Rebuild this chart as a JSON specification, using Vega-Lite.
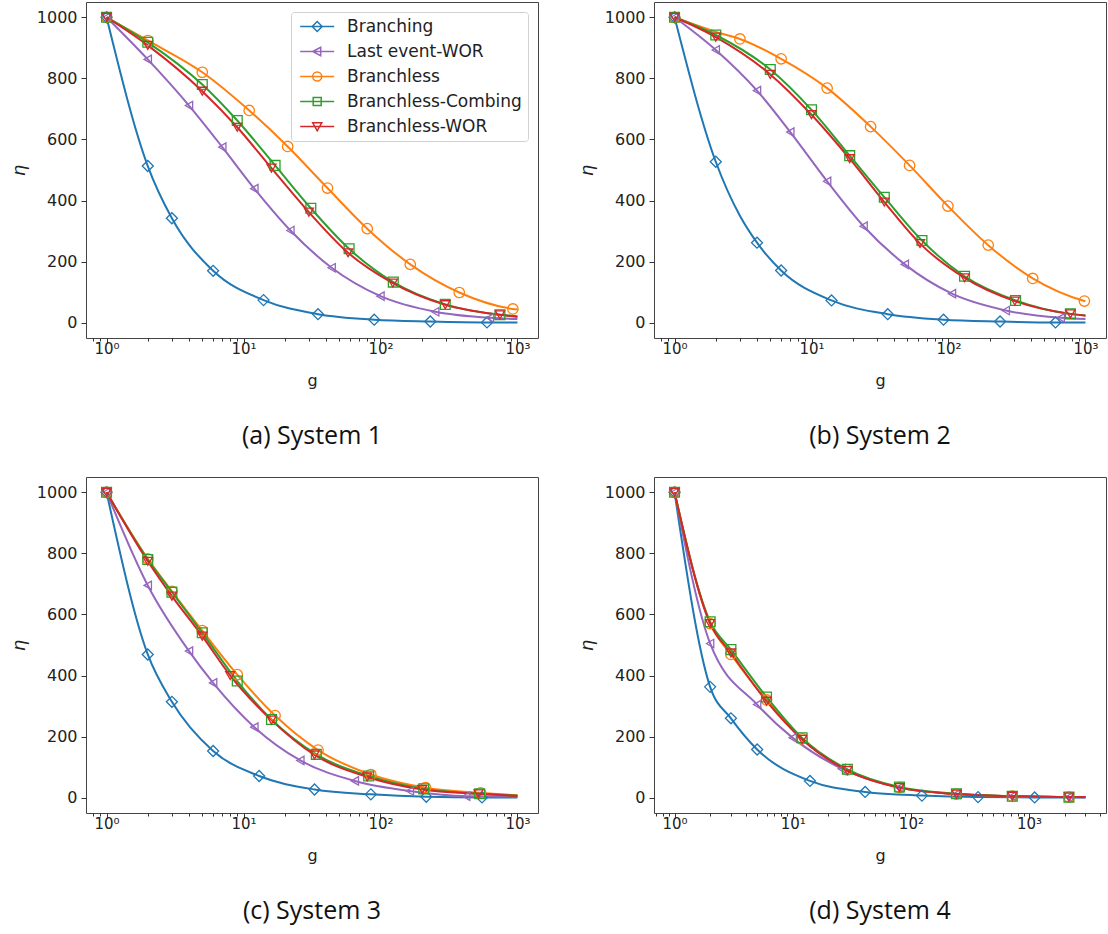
{
"$schema": "https://vega.github.io/schema/vega-lite/v6.json",
"padding": {"left": 9, "top": 1, "right": 0, "bottom": 6},
"config": {
  "font": "DejaVu Sans",
  "view": {"stroke": "#444", "strokeWidth": 1},
  "axis": {"domain": false, "grid": false, "tickColor": "#333", "tickWidth": 1, "labelColor": "#222", "labelFont": "DejaVu Sans", "titleFont": "DejaVu Sans", "titleFontWeight": "normal", "titleColor": "#222"},
  "axisX": {"labelFontSize": 15, "titleFontSize": 16, "labelPadding": -2, "titlePadding": 16, "labelFlush": false, "labelOverlap": false},
  "axisY": {"labelFontSize": 16, "titleFontSize": 18, "titleFontStyle": "italic", "tickSize": 5, "labelPadding": 4, "titlePadding": 8},
  "title": {"font": "Open Sans", "fontSize": 25, "fontWeight": "normal", "color": "#111"}
},
"datasets": {
"markers": [
{"panel":"a","series":"Branching","g":1,"eta":1000},{"panel":"a","series":"Branching","g":2,"eta":513},{"panel":"a","series":"Branching","g":3,"eta":342},{"panel":"a","series":"Branching","g":6,"eta":170},{"panel":"a","series":"Branching","g":14,"eta":74},{"panel":"a","series":"Branching","g":35,"eta":28},{"panel":"a","series":"Branching","g":90,"eta":10},{"panel":"a","series":"Branching","g":231,"eta":4},{"panel":"a","series":"Branching","g":599,"eta":1},
{"panel":"a","series":"Last event-WOR","g":1,"eta":1000},{"panel":"a","series":"Last event-WOR","g":2,"eta":862},{"panel":"a","series":"Last event-WOR","g":4,"eta":711},{"panel":"a","series":"Last event-WOR","g":7,"eta":575},{"panel":"a","series":"Last event-WOR","g":12,"eta":439},{"panel":"a","series":"Last event-WOR","g":22,"eta":302},{"panel":"a","series":"Last event-WOR","g":44,"eta":180},{"panel":"a","series":"Last event-WOR","g":100,"eta":87},{"panel":"a","series":"Last event-WOR","g":251,"eta":36},{"panel":"a","series":"Last event-WOR","g":630,"eta":16},
{"panel":"a","series":"Branchless","g":1,"eta":1000},{"panel":"a","series":"Branchless","g":2,"eta":924},{"panel":"a","series":"Branchless","g":5,"eta":820},{"panel":"a","series":"Branchless","g":11,"eta":695},{"panel":"a","series":"Branchless","g":21,"eta":577},{"panel":"a","series":"Branchless","g":41,"eta":441},{"panel":"a","series":"Branchless","g":80,"eta":308},{"panel":"a","series":"Branchless","g":165,"eta":191},{"panel":"a","series":"Branchless","g":376,"eta":99},{"panel":"a","series":"Branchless","g":926,"eta":45},
{"panel":"a","series":"Branchless-Combing","g":1,"eta":1000},{"panel":"a","series":"Branchless-Combing","g":2,"eta":918},{"panel":"a","series":"Branchless-Combing","g":5,"eta":780},{"panel":"a","series":"Branchless-Combing","g":9,"eta":662},{"panel":"a","series":"Branchless-Combing","g":17,"eta":515},{"panel":"a","series":"Branchless-Combing","g":31,"eta":375},{"panel":"a","series":"Branchless-Combing","g":59,"eta":242},{"panel":"a","series":"Branchless-Combing","g":124,"eta":133},{"panel":"a","series":"Branchless-Combing","g":297,"eta":60},{"panel":"a","series":"Branchless-Combing","g":745,"eta":26},
{"panel":"a","series":"Branchless-WOR","g":1,"eta":1000},{"panel":"a","series":"Branchless-WOR","g":2,"eta":908},{"panel":"a","series":"Branchless-WOR","g":5,"eta":758},{"panel":"a","series":"Branchless-WOR","g":9,"eta":640},{"panel":"a","series":"Branchless-WOR","g":16,"eta":506},{"panel":"a","series":"Branchless-WOR","g":30,"eta":362},{"panel":"a","series":"Branchless-WOR","g":58,"eta":229},{"panel":"a","series":"Branchless-WOR","g":123,"eta":130},{"panel":"a","series":"Branchless-WOR","g":297,"eta":59},{"panel":"a","series":"Branchless-WOR","g":745,"eta":26},
{"panel":"b","series":"Branching","g":1,"eta":1000},{"panel":"b","series":"Branching","g":2,"eta":527},{"panel":"b","series":"Branching","g":4,"eta":262},{"panel":"b","series":"Branching","g":6,"eta":171},{"panel":"b","series":"Branching","g":14,"eta":73},{"panel":"b","series":"Branching","g":36,"eta":28},{"panel":"b","series":"Branching","g":92,"eta":10},{"panel":"b","series":"Branching","g":238,"eta":4},{"panel":"b","series":"Branching","g":604,"eta":1},
{"panel":"b","series":"Last event-WOR","g":1,"eta":1000},{"panel":"b","series":"Last event-WOR","g":2,"eta":893},{"panel":"b","series":"Last event-WOR","g":4,"eta":760},{"panel":"b","series":"Last event-WOR","g":7,"eta":624},{"panel":"b","series":"Last event-WOR","g":13,"eta":463},{"panel":"b","series":"Last event-WOR","g":24,"eta":316},{"panel":"b","series":"Last event-WOR","g":48,"eta":191},{"panel":"b","series":"Last event-WOR","g":106,"eta":95},{"panel":"b","series":"Last event-WOR","g":262,"eta":40},{"panel":"b","series":"Last event-WOR","g":660,"eta":16},
{"panel":"b","series":"Branchless","g":1,"eta":1000},{"panel":"b","series":"Branchless","g":3,"eta":929},{"panel":"b","series":"Branchless","g":6,"eta":864},{"panel":"b","series":"Branchless","g":13,"eta":768},{"panel":"b","series":"Branchless","g":27,"eta":642},{"panel":"b","series":"Branchless","g":52,"eta":515},{"panel":"b","series":"Branchless","g":99,"eta":382},{"panel":"b","series":"Branchless","g":195,"eta":254},{"panel":"b","series":"Branchless","g":412,"eta":145},{"panel":"b","series":"Branchless","g":982,"eta":71},
{"panel":"b","series":"Branchless-Combing","g":1,"eta":1000},{"panel":"b","series":"Branchless-Combing","g":2,"eta":942},{"panel":"b","series":"Branchless-Combing","g":5,"eta":829},{"panel":"b","series":"Branchless-Combing","g":10,"eta":697},{"panel":"b","series":"Branchless-Combing","g":19,"eta":547},{"panel":"b","series":"Branchless-Combing","g":34,"eta":411},{"panel":"b","series":"Branchless-Combing","g":64,"eta":269},{"panel":"b","series":"Branchless-Combing","g":131,"eta":152},{"panel":"b","series":"Branchless-Combing","g":309,"eta":73},{"panel":"b","series":"Branchless-Combing","g":776,"eta":29},
{"panel":"b","series":"Branchless-WOR","g":1,"eta":1000},{"panel":"b","series":"Branchless-WOR","g":2,"eta":935},{"panel":"b","series":"Branchless-WOR","g":5,"eta":813},{"panel":"b","series":"Branchless-WOR","g":10,"eta":681},{"panel":"b","series":"Branchless-WOR","g":19,"eta":537},{"panel":"b","series":"Branchless-WOR","g":34,"eta":395},{"panel":"b","series":"Branchless-WOR","g":62,"eta":259},{"panel":"b","series":"Branchless-WOR","g":131,"eta":147},{"panel":"b","series":"Branchless-WOR","g":305,"eta":71},{"panel":"b","series":"Branchless-WOR","g":776,"eta":29},
{"panel":"c","series":"Branching","g":1,"eta":1000},{"panel":"c","series":"Branching","g":2,"eta":469},{"panel":"c","series":"Branching","g":3,"eta":314},{"panel":"c","series":"Branching","g":6,"eta":153},{"panel":"c","series":"Branching","g":13,"eta":71},{"panel":"c","series":"Branching","g":33,"eta":27},{"panel":"c","series":"Branching","g":85,"eta":11},{"panel":"c","series":"Branching","g":216,"eta":3},{"panel":"c","series":"Branching","g":551,"eta":1},
{"panel":"c","series":"Last event-WOR","g":1,"eta":1000},{"panel":"c","series":"Last event-WOR","g":2,"eta":695},{"panel":"c","series":"Last event-WOR","g":4,"eta":480},{"panel":"c","series":"Last event-WOR","g":6,"eta":376},{"panel":"c","series":"Last event-WOR","g":12,"eta":231},{"panel":"c","series":"Last event-WOR","g":26,"eta":122},{"panel":"c","series":"Last event-WOR","g":65,"eta":55},{"panel":"c","series":"Last event-WOR","g":164,"eta":22},{"panel":"c","series":"Last event-WOR","g":422,"eta":5},
{"panel":"c","series":"Branchless","g":1,"eta":1000},{"panel":"c","series":"Branchless","g":2,"eta":782},{"panel":"c","series":"Branchless","g":3,"eta":676},{"panel":"c","series":"Branchless","g":5,"eta":547},{"panel":"c","series":"Branchless","g":9,"eta":403},{"panel":"c","series":"Branchless","g":17,"eta":269},{"panel":"c","series":"Branchless","g":35,"eta":156},{"panel":"c","series":"Branchless","g":85,"eta":76},{"panel":"c","series":"Branchless","g":213,"eta":33},{"panel":"c","series":"Branchless","g":538,"eta":16},
{"panel":"c","series":"Branchless-Combing","g":1,"eta":1000},{"panel":"c","series":"Branchless-Combing","g":2,"eta":780},{"panel":"c","series":"Branchless-Combing","g":3,"eta":673},{"panel":"c","series":"Branchless-Combing","g":5,"eta":540},{"panel":"c","series":"Branchless-Combing","g":9,"eta":382},{"panel":"c","series":"Branchless-Combing","g":16,"eta":256},{"panel":"c","series":"Branchless-Combing","g":34,"eta":142},{"panel":"c","series":"Branchless-Combing","g":82,"eta":71},{"panel":"c","series":"Branchless-Combing","g":207,"eta":29},{"panel":"c","series":"Branchless-Combing","g":530,"eta":13},
{"panel":"c","series":"Branchless-WOR","g":1,"eta":1000},{"panel":"c","series":"Branchless-WOR","g":2,"eta":774},{"panel":"c","series":"Branchless-WOR","g":3,"eta":660},{"panel":"c","series":"Branchless-WOR","g":5,"eta":529},{"panel":"c","series":"Branchless-WOR","g":8,"eta":400},{"panel":"c","series":"Branchless-WOR","g":16,"eta":254},{"panel":"c","series":"Branchless-WOR","g":33,"eta":140},{"panel":"c","series":"Branchless-WOR","g":80,"eta":68},{"panel":"c","series":"Branchless-WOR","g":202,"eta":27},{"panel":"c","series":"Branchless-WOR","g":520,"eta":13},
{"panel":"d","series":"Branching","g":1,"eta":1000},{"panel":"d","series":"Branching","g":2,"eta":363},{"panel":"d","series":"Branching","g":3,"eta":260},{"panel":"d","series":"Branching","g":5,"eta":158},{"panel":"d","series":"Branching","g":14,"eta":55},{"panel":"d","series":"Branching","g":41,"eta":19},{"panel":"d","series":"Branching","g":124,"eta":7},{"panel":"d","series":"Branching","g":370,"eta":2},{"panel":"d","series":"Branching","g":1115,"eta":1},
{"panel":"d","series":"Last event-WOR","g":1,"eta":1000},{"panel":"d","series":"Last event-WOR","g":2,"eta":505},{"panel":"d","series":"Last event-WOR","g":5,"eta":305},{"panel":"d","series":"Last event-WOR","g":10,"eta":196},{"panel":"d","series":"Last event-WOR","g":26,"eta":95},{"panel":"d","series":"Last event-WOR","g":80,"eta":33},{"panel":"d","series":"Last event-WOR","g":243,"eta":12},{"panel":"d","series":"Last event-WOR","g":721,"eta":5},{"panel":"d","series":"Last event-WOR","g":2174,"eta":2},
{"panel":"d","series":"Branchless","g":1,"eta":1000},{"panel":"d","series":"Branchless","g":2,"eta":570},{"panel":"d","series":"Branchless","g":3,"eta":469},{"panel":"d","series":"Branchless","g":6,"eta":320},{"panel":"d","series":"Branchless","g":12,"eta":193},{"panel":"d","series":"Branchless","g":29,"eta":91},{"panel":"d","series":"Branchless","g":80,"eta":33},{"panel":"d","series":"Branchless","g":243,"eta":12},{"panel":"d","series":"Branchless","g":721,"eta":5},{"panel":"d","series":"Branchless","g":2174,"eta":2},
{"panel":"d","series":"Branchless-Combing","g":1,"eta":1000},{"panel":"d","series":"Branchless-Combing","g":2,"eta":576},{"panel":"d","series":"Branchless-Combing","g":3,"eta":485},{"panel":"d","series":"Branchless-Combing","g":6,"eta":330},{"panel":"d","series":"Branchless-Combing","g":12,"eta":196},{"panel":"d","series":"Branchless-Combing","g":29,"eta":93},{"panel":"d","series":"Branchless-Combing","g":80,"eta":35},{"panel":"d","series":"Branchless-Combing","g":243,"eta":13},{"panel":"d","series":"Branchless-Combing","g":721,"eta":5},{"panel":"d","series":"Branchless-Combing","g":2174,"eta":2},
{"panel":"d","series":"Branchless-WOR","g":1,"eta":1000},{"panel":"d","series":"Branchless-WOR","g":2,"eta":570},{"panel":"d","series":"Branchless-WOR","g":3,"eta":474},{"panel":"d","series":"Branchless-WOR","g":6,"eta":316},{"panel":"d","series":"Branchless-WOR","g":12,"eta":191},{"panel":"d","series":"Branchless-WOR","g":29,"eta":89},{"panel":"d","series":"Branchless-WOR","g":80,"eta":33},{"panel":"d","series":"Branchless-WOR","g":243,"eta":12},{"panel":"d","series":"Branchless-WOR","g":721,"eta":5},{"panel":"d","series":"Branchless-WOR","g":2174,"eta":2}
],
"curves": [
{"panel":"a","series":"Branching","g":1,"eta":1000},{"panel":"a","series":"Branching","g":2,"eta":513},{"panel":"a","series":"Branching","g":3,"eta":342},{"panel":"a","series":"Branching","g":6,"eta":170},{"panel":"a","series":"Branching","g":14,"eta":74},{"panel":"a","series":"Branching","g":35,"eta":28},{"panel":"a","series":"Branching","g":90,"eta":10},{"panel":"a","series":"Branching","g":231,"eta":4},{"panel":"a","series":"Branching","g":599,"eta":1},{"panel":"a","series":"Branching","g":1000,"eta":1},
{"panel":"a","series":"Last event-WOR","g":1,"eta":1000},{"panel":"a","series":"Last event-WOR","g":2,"eta":862},{"panel":"a","series":"Last event-WOR","g":4,"eta":711},{"panel":"a","series":"Last event-WOR","g":7,"eta":575},{"panel":"a","series":"Last event-WOR","g":12,"eta":439},{"panel":"a","series":"Last event-WOR","g":22,"eta":302},{"panel":"a","series":"Last event-WOR","g":44,"eta":180},{"panel":"a","series":"Last event-WOR","g":100,"eta":87},{"panel":"a","series":"Last event-WOR","g":251,"eta":36},{"panel":"a","series":"Last event-WOR","g":630,"eta":16},{"panel":"a","series":"Last event-WOR","g":1000,"eta":12},
{"panel":"a","series":"Branchless","g":1,"eta":1000},{"panel":"a","series":"Branchless","g":2,"eta":924},{"panel":"a","series":"Branchless","g":5,"eta":820},{"panel":"a","series":"Branchless","g":11,"eta":695},{"panel":"a","series":"Branchless","g":21,"eta":577},{"panel":"a","series":"Branchless","g":41,"eta":441},{"panel":"a","series":"Branchless","g":80,"eta":308},{"panel":"a","series":"Branchless","g":165,"eta":191},{"panel":"a","series":"Branchless","g":376,"eta":99},{"panel":"a","series":"Branchless","g":926,"eta":45},{"panel":"a","series":"Branchless","g":1000,"eta":43},
{"panel":"a","series":"Branchless-Combing","g":1,"eta":1000},{"panel":"a","series":"Branchless-Combing","g":2,"eta":918},{"panel":"a","series":"Branchless-Combing","g":5,"eta":780},{"panel":"a","series":"Branchless-Combing","g":9,"eta":662},{"panel":"a","series":"Branchless-Combing","g":17,"eta":515},{"panel":"a","series":"Branchless-Combing","g":31,"eta":375},{"panel":"a","series":"Branchless-Combing","g":59,"eta":242},{"panel":"a","series":"Branchless-Combing","g":124,"eta":133},{"panel":"a","series":"Branchless-Combing","g":297,"eta":60},{"panel":"a","series":"Branchless-Combing","g":745,"eta":26},{"panel":"a","series":"Branchless-Combing","g":1000,"eta":21},
{"panel":"a","series":"Branchless-WOR","g":1,"eta":1000},{"panel":"a","series":"Branchless-WOR","g":2,"eta":908},{"panel":"a","series":"Branchless-WOR","g":5,"eta":758},{"panel":"a","series":"Branchless-WOR","g":9,"eta":640},{"panel":"a","series":"Branchless-WOR","g":16,"eta":506},{"panel":"a","series":"Branchless-WOR","g":30,"eta":362},{"panel":"a","series":"Branchless-WOR","g":58,"eta":229},{"panel":"a","series":"Branchless-WOR","g":123,"eta":130},{"panel":"a","series":"Branchless-WOR","g":297,"eta":59},{"panel":"a","series":"Branchless-WOR","g":745,"eta":26},{"panel":"a","series":"Branchless-WOR","g":1000,"eta":19},
{"panel":"b","series":"Branching","g":1,"eta":1000},{"panel":"b","series":"Branching","g":2,"eta":527},{"panel":"b","series":"Branching","g":3,"eta":350},{"panel":"b","series":"Branching","g":4,"eta":262},{"panel":"b","series":"Branching","g":6,"eta":171},{"panel":"b","series":"Branching","g":14,"eta":73},{"panel":"b","series":"Branching","g":36,"eta":28},{"panel":"b","series":"Branching","g":92,"eta":10},{"panel":"b","series":"Branching","g":238,"eta":4},{"panel":"b","series":"Branching","g":604,"eta":1},{"panel":"b","series":"Branching","g":1000,"eta":1},
{"panel":"b","series":"Last event-WOR","g":1,"eta":1000},{"panel":"b","series":"Last event-WOR","g":2,"eta":893},{"panel":"b","series":"Last event-WOR","g":4,"eta":760},{"panel":"b","series":"Last event-WOR","g":7,"eta":624},{"panel":"b","series":"Last event-WOR","g":13,"eta":463},{"panel":"b","series":"Last event-WOR","g":24,"eta":316},{"panel":"b","series":"Last event-WOR","g":48,"eta":191},{"panel":"b","series":"Last event-WOR","g":106,"eta":95},{"panel":"b","series":"Last event-WOR","g":262,"eta":40},{"panel":"b","series":"Last event-WOR","g":660,"eta":16},{"panel":"b","series":"Last event-WOR","g":1000,"eta":12},
{"panel":"b","series":"Branchless","g":1,"eta":1000},{"panel":"b","series":"Branchless","g":2,"eta":952},{"panel":"b","series":"Branchless","g":3,"eta":929},{"panel":"b","series":"Branchless","g":6,"eta":864},{"panel":"b","series":"Branchless","g":13,"eta":768},{"panel":"b","series":"Branchless","g":27,"eta":642},{"panel":"b","series":"Branchless","g":52,"eta":515},{"panel":"b","series":"Branchless","g":99,"eta":382},{"panel":"b","series":"Branchless","g":195,"eta":254},{"panel":"b","series":"Branchless","g":412,"eta":145},{"panel":"b","series":"Branchless","g":982,"eta":71},{"panel":"b","series":"Branchless","g":1000,"eta":70},
{"panel":"b","series":"Branchless-Combing","g":1,"eta":1000},{"panel":"b","series":"Branchless-Combing","g":2,"eta":942},{"panel":"b","series":"Branchless-Combing","g":5,"eta":829},{"panel":"b","series":"Branchless-Combing","g":10,"eta":697},{"panel":"b","series":"Branchless-Combing","g":19,"eta":547},{"panel":"b","series":"Branchless-Combing","g":34,"eta":411},{"panel":"b","series":"Branchless-Combing","g":64,"eta":269},{"panel":"b","series":"Branchless-Combing","g":131,"eta":152},{"panel":"b","series":"Branchless-Combing","g":309,"eta":73},{"panel":"b","series":"Branchless-Combing","g":776,"eta":29},{"panel":"b","series":"Branchless-Combing","g":1000,"eta":24},
{"panel":"b","series":"Branchless-WOR","g":1,"eta":1000},{"panel":"b","series":"Branchless-WOR","g":2,"eta":935},{"panel":"b","series":"Branchless-WOR","g":5,"eta":813},{"panel":"b","series":"Branchless-WOR","g":10,"eta":681},{"panel":"b","series":"Branchless-WOR","g":19,"eta":537},{"panel":"b","series":"Branchless-WOR","g":34,"eta":395},{"panel":"b","series":"Branchless-WOR","g":62,"eta":259},{"panel":"b","series":"Branchless-WOR","g":131,"eta":147},{"panel":"b","series":"Branchless-WOR","g":305,"eta":71},{"panel":"b","series":"Branchless-WOR","g":776,"eta":29},{"panel":"b","series":"Branchless-WOR","g":1000,"eta":23},
{"panel":"c","series":"Branching","g":1,"eta":1000},{"panel":"c","series":"Branching","g":2,"eta":469},{"panel":"c","series":"Branching","g":3,"eta":314},{"panel":"c","series":"Branching","g":6,"eta":153},{"panel":"c","series":"Branching","g":13,"eta":71},{"panel":"c","series":"Branching","g":33,"eta":27},{"panel":"c","series":"Branching","g":85,"eta":11},{"panel":"c","series":"Branching","g":216,"eta":3},{"panel":"c","series":"Branching","g":551,"eta":1},{"panel":"c","series":"Branching","g":1000,"eta":1},
{"panel":"c","series":"Last event-WOR","g":1,"eta":1000},{"panel":"c","series":"Last event-WOR","g":2,"eta":695},{"panel":"c","series":"Last event-WOR","g":4,"eta":480},{"panel":"c","series":"Last event-WOR","g":6,"eta":376},{"panel":"c","series":"Last event-WOR","g":12,"eta":231},{"panel":"c","series":"Last event-WOR","g":26,"eta":122},{"panel":"c","series":"Last event-WOR","g":65,"eta":55},{"panel":"c","series":"Last event-WOR","g":164,"eta":22},{"panel":"c","series":"Last event-WOR","g":422,"eta":5},{"panel":"c","series":"Last event-WOR","g":1000,"eta":4},
{"panel":"c","series":"Branchless","g":1,"eta":1000},{"panel":"c","series":"Branchless","g":2,"eta":782},{"panel":"c","series":"Branchless","g":3,"eta":676},{"panel":"c","series":"Branchless","g":5,"eta":547},{"panel":"c","series":"Branchless","g":9,"eta":403},{"panel":"c","series":"Branchless","g":17,"eta":269},{"panel":"c","series":"Branchless","g":35,"eta":156},{"panel":"c","series":"Branchless","g":85,"eta":76},{"panel":"c","series":"Branchless","g":213,"eta":33},{"panel":"c","series":"Branchless","g":538,"eta":16},{"panel":"c","series":"Branchless","g":1000,"eta":8},
{"panel":"c","series":"Branchless-Combing","g":1,"eta":1000},{"panel":"c","series":"Branchless-Combing","g":2,"eta":780},{"panel":"c","series":"Branchless-Combing","g":3,"eta":673},{"panel":"c","series":"Branchless-Combing","g":5,"eta":540},{"panel":"c","series":"Branchless-Combing","g":9,"eta":382},{"panel":"c","series":"Branchless-Combing","g":16,"eta":256},{"panel":"c","series":"Branchless-Combing","g":34,"eta":142},{"panel":"c","series":"Branchless-Combing","g":82,"eta":71},{"panel":"c","series":"Branchless-Combing","g":207,"eta":29},{"panel":"c","series":"Branchless-Combing","g":530,"eta":13},{"panel":"c","series":"Branchless-Combing","g":1000,"eta":7},
{"panel":"c","series":"Branchless-WOR","g":1,"eta":1000},{"panel":"c","series":"Branchless-WOR","g":2,"eta":774},{"panel":"c","series":"Branchless-WOR","g":3,"eta":660},{"panel":"c","series":"Branchless-WOR","g":5,"eta":529},{"panel":"c","series":"Branchless-WOR","g":8,"eta":400},{"panel":"c","series":"Branchless-WOR","g":16,"eta":254},{"panel":"c","series":"Branchless-WOR","g":33,"eta":140},{"panel":"c","series":"Branchless-WOR","g":80,"eta":68},{"panel":"c","series":"Branchless-WOR","g":202,"eta":27},{"panel":"c","series":"Branchless-WOR","g":520,"eta":13},{"panel":"c","series":"Branchless-WOR","g":1000,"eta":6},
{"panel":"d","series":"Branching","g":1,"eta":1000},{"panel":"d","series":"Branching","g":2,"eta":363},{"panel":"d","series":"Branching","g":3,"eta":260},{"panel":"d","series":"Branching","g":5,"eta":158},{"panel":"d","series":"Branching","g":14,"eta":55},{"panel":"d","series":"Branching","g":41,"eta":19},{"panel":"d","series":"Branching","g":124,"eta":7},{"panel":"d","series":"Branching","g":370,"eta":2},{"panel":"d","series":"Branching","g":1115,"eta":1},{"panel":"d","series":"Branching","g":3000,"eta":1},
{"panel":"d","series":"Last event-WOR","g":1,"eta":1000},{"panel":"d","series":"Last event-WOR","g":2,"eta":505},{"panel":"d","series":"Last event-WOR","g":5,"eta":305},{"panel":"d","series":"Last event-WOR","g":10,"eta":196},{"panel":"d","series":"Last event-WOR","g":26,"eta":95},{"panel":"d","series":"Last event-WOR","g":80,"eta":33},{"panel":"d","series":"Last event-WOR","g":243,"eta":12},{"panel":"d","series":"Last event-WOR","g":721,"eta":5},{"panel":"d","series":"Last event-WOR","g":2174,"eta":2},{"panel":"d","series":"Last event-WOR","g":3000,"eta":1},
{"panel":"d","series":"Branchless","g":1,"eta":1000},{"panel":"d","series":"Branchless","g":2,"eta":570},{"panel":"d","series":"Branchless","g":3,"eta":469},{"panel":"d","series":"Branchless","g":6,"eta":320},{"panel":"d","series":"Branchless","g":12,"eta":193},{"panel":"d","series":"Branchless","g":29,"eta":91},{"panel":"d","series":"Branchless","g":80,"eta":33},{"panel":"d","series":"Branchless","g":243,"eta":12},{"panel":"d","series":"Branchless","g":721,"eta":5},{"panel":"d","series":"Branchless","g":2174,"eta":2},{"panel":"d","series":"Branchless","g":3000,"eta":2},
{"panel":"d","series":"Branchless-Combing","g":1,"eta":1000},{"panel":"d","series":"Branchless-Combing","g":2,"eta":576},{"panel":"d","series":"Branchless-Combing","g":3,"eta":485},{"panel":"d","series":"Branchless-Combing","g":6,"eta":330},{"panel":"d","series":"Branchless-Combing","g":12,"eta":196},{"panel":"d","series":"Branchless-Combing","g":29,"eta":93},{"panel":"d","series":"Branchless-Combing","g":80,"eta":35},{"panel":"d","series":"Branchless-Combing","g":243,"eta":13},{"panel":"d","series":"Branchless-Combing","g":721,"eta":5},{"panel":"d","series":"Branchless-Combing","g":2174,"eta":2},{"panel":"d","series":"Branchless-Combing","g":3000,"eta":2},
{"panel":"d","series":"Branchless-WOR","g":1,"eta":1000},{"panel":"d","series":"Branchless-WOR","g":2,"eta":570},{"panel":"d","series":"Branchless-WOR","g":3,"eta":474},{"panel":"d","series":"Branchless-WOR","g":6,"eta":316},{"panel":"d","series":"Branchless-WOR","g":12,"eta":191},{"panel":"d","series":"Branchless-WOR","g":29,"eta":89},{"panel":"d","series":"Branchless-WOR","g":80,"eta":33},{"panel":"d","series":"Branchless-WOR","g":243,"eta":12},{"panel":"d","series":"Branchless-WOR","g":721,"eta":5},{"panel":"d","series":"Branchless-WOR","g":2174,"eta":2},{"panel":"d","series":"Branchless-WOR","g":3000,"eta":2}
]
},
"columns": 2,
"spacing": {"row": 26, "column": 38},
"resolve": {"scale": {"color": "independent", "shape": "independent", "size": "independent"}, "legend": {"color": "independent", "shape": "independent", "size": "independent"}},
"concat": [
{
 "width": 452, "height": 336,
 "title": {"text": "(a) System 1", "orient": "bottom", "anchor": "middle", "offset": 36},
 "layer": [
  {"data": {"name": "curves"}, "transform": [{"filter": "datum.panel === 'a'"}],
   "mark": {"type": "line", "interpolate": "monotone", "strokeWidth": 2},
   "encoding": {
    "x": {"field": "g", "type": "quantitative", "scale": {"type": "log", "domain": [0.7079, 1412.5], "nice": false}, "axis": {"title": "g", "values": [0.8,0.9,1,2,3,4,5,6,7,8,9,10,20,30,40,50,60,70,80,90,100,200,300,400,500,600,700,800,900,1000], "labelExpr": "abs(log(datum.value)/LN10 - round(log(datum.value)/LN10)) < 0.001 ? '10' + ['⁰','¹','²','³','⁴'][round(log(datum.value)/LN10)] : ''", "tickSize": {"condition": {"test": "abs(log(datum.value)/LN10 - round(log(datum.value)/LN10)) < 0.001", "value": 5}, "value": 3}}},
    "y": {"field": "eta", "type": "quantitative", "scale": {"domain": [-50, 1050], "nice": false, "zero": false}, "axis": {"title": "η", "values": [0,200,400,600,800,1000], "format": "d"}},
    "color": {"field": "series", "type": "nominal", "scale": {"domain": ["Branching","Last event-WOR","Branchless","Branchless-Combing","Branchless-WOR"], "range": ["#1f77b4","#9467bd","#ff7f0e","#2ca02c","#d62728"]},
      "legend": {"title": null, "orient": "top-right", "offset": 10, "padding": 6, "symbolSize": 100, "labelOffset": 33, "rowPadding": 7, "labelFontSize": 17, "labelFont": "DejaVu Sans", "labelColor": "#222", "labelLimit": 300, "strokeColor": "#d0d0d0", "fillColor": "white", "cornerRadius": 3, "symbolStrokeWidth": 1.5,
       "encode": {"symbols": {"update": {"fill": {"value": "transparent"}, "shape": {"signal": "datum.value === 'Branching' ? 'M-1.06,0H5.74M3.34,0L2.34,-1L1.34,0L2.34,1Z' : datum.value === 'Last event-WOR' ? 'M-1.06,0H5.74M1.44,0L3.04,-0.85L3.04,0.85Z' : datum.value === 'Branchless' ? 'M-1.06,0H5.74M3.24,0A0.9,0.9,0,1,1,1.44,0A0.9,0.9,0,1,1,3.24,0Z' : datum.value === 'Branchless-Combing' ? 'M-1.06,0H5.74M1.54,-0.8H3.14V0.8H1.54Z' : 'M-1.06,0H5.74M1.44,-0.75H3.24L2.34,0.85Z'"}}}}}
    }
   }},
  {"data": {"name": "markers"}, "transform": [{"filter": "datum.panel === 'a'"}],
   "mark": {"type": "point", "filled": false, "strokeWidth": 1.3, "opacity": 1},
   "encoding": {
    "x": {"field": "g", "type": "quantitative"},
    "y": {"field": "eta", "type": "quantitative"},
    "color": {"field": "series", "type": "nominal"},
    "shape": {"field": "series", "type": "nominal", "scale": {"range": ["diamond","circle","square","triangle-down","triangle-left"]}, "legend": null},
    "size": {"field": "series", "type": "nominal", "scale": {"range": [121, 71, 70, 90, 90]}, "legend": null}
   }}
 ]
},
{
 "width": 452, "height": 336,
 "title": {"text": "(b) System 2", "orient": "bottom", "anchor": "middle", "offset": 36},
 "layer": [
  {"data": {"name": "curves"}, "transform": [{"filter": "datum.panel === 'b'"}],
   "mark": {"type": "line", "interpolate": "monotone", "strokeWidth": 2},
   "encoding": {
    "x": {"field": "g", "type": "quantitative", "scale": {"type": "log", "domain": [0.7079, 1412.5], "nice": false}, "axis": {"title": "g", "values": [0.8,0.9,1,2,3,4,5,6,7,8,9,10,20,30,40,50,60,70,80,90,100,200,300,400,500,600,700,800,900,1000], "labelExpr": "abs(log(datum.value)/LN10 - round(log(datum.value)/LN10)) < 0.001 ? '10' + ['⁰','¹','²','³','⁴'][round(log(datum.value)/LN10)] : ''", "tickSize": {"condition": {"test": "abs(log(datum.value)/LN10 - round(log(datum.value)/LN10)) < 0.001", "value": 5}, "value": 3}}},
    "y": {"field": "eta", "type": "quantitative", "scale": {"domain": [-50, 1050], "nice": false, "zero": false}, "axis": {"title": "η", "values": [0,200,400,600,800,1000], "format": "d"}},
    "color": {"field": "series", "type": "nominal", "scale": {"domain": ["Branching","Last event-WOR","Branchless","Branchless-Combing","Branchless-WOR"], "range": ["#1f77b4","#9467bd","#ff7f0e","#2ca02c","#d62728"]}, "legend": null}
   }},
  {"data": {"name": "markers"}, "transform": [{"filter": "datum.panel === 'b'"}],
   "mark": {"type": "point", "filled": false, "strokeWidth": 1.3, "opacity": 1},
   "encoding": {
    "x": {"field": "g", "type": "quantitative"},
    "y": {"field": "eta", "type": "quantitative"},
    "color": {"field": "series", "type": "nominal", "legend": null},
    "shape": {"field": "series", "type": "nominal", "scale": {"range": ["diamond","circle","square","triangle-down","triangle-left"]}, "legend": null},
    "size": {"field": "series", "type": "nominal", "scale": {"range": [121, 71, 70, 90, 90]}, "legend": null}
   }}
 ]
},
{
 "width": 452, "height": 336,
 "title": {"text": "(c) System 3", "orient": "bottom", "anchor": "middle", "offset": 36},
 "layer": [
  {"data": {"name": "curves"}, "transform": [{"filter": "datum.panel === 'c'"}],
   "mark": {"type": "line", "interpolate": "monotone", "strokeWidth": 2},
   "encoding": {
    "x": {"field": "g", "type": "quantitative", "scale": {"type": "log", "domain": [0.7079, 1412.5], "nice": false}, "axis": {"title": "g", "values": [0.8,0.9,1,2,3,4,5,6,7,8,9,10,20,30,40,50,60,70,80,90,100,200,300,400,500,600,700,800,900,1000], "labelExpr": "abs(log(datum.value)/LN10 - round(log(datum.value)/LN10)) < 0.001 ? '10' + ['⁰','¹','²','³','⁴'][round(log(datum.value)/LN10)] : ''", "tickSize": {"condition": {"test": "abs(log(datum.value)/LN10 - round(log(datum.value)/LN10)) < 0.001", "value": 5}, "value": 3}}},
    "y": {"field": "eta", "type": "quantitative", "scale": {"domain": [-50, 1050], "nice": false, "zero": false}, "axis": {"title": "η", "values": [0,200,400,600,800,1000], "format": "d"}},
    "color": {"field": "series", "type": "nominal", "scale": {"domain": ["Branching","Last event-WOR","Branchless","Branchless-Combing","Branchless-WOR"], "range": ["#1f77b4","#9467bd","#ff7f0e","#2ca02c","#d62728"]}, "legend": null}
   }},
  {"data": {"name": "markers"}, "transform": [{"filter": "datum.panel === 'c'"}],
   "mark": {"type": "point", "filled": false, "strokeWidth": 1.3, "opacity": 1},
   "encoding": {
    "x": {"field": "g", "type": "quantitative"},
    "y": {"field": "eta", "type": "quantitative"},
    "color": {"field": "series", "type": "nominal", "legend": null},
    "shape": {"field": "series", "type": "nominal", "scale": {"range": ["diamond","circle","square","triangle-down","triangle-left"]}, "legend": null},
    "size": {"field": "series", "type": "nominal", "scale": {"range": [121, 71, 70, 90, 90]}, "legend": null}
   }}
 ]
},
{
 "width": 452, "height": 336,
 "title": {"text": "(d) System 4", "orient": "bottom", "anchor": "middle", "offset": 36},
 "layer": [
  {"data": {"name": "curves"}, "transform": [{"filter": "datum.panel === 'd'"}],
   "mark": {"type": "line", "interpolate": "monotone", "strokeWidth": 2},
   "encoding": {
    "x": {"field": "g", "type": "quantitative", "scale": {"type": "log", "domain": [0.67, 4477], "nice": false}, "axis": {"title": "g", "values": [0.7,0.8,0.9,1,2,3,4,5,6,7,8,9,10,20,30,40,50,60,70,80,90,100,200,300,400,500,600,700,800,900,1000,2000,3000,4000], "labelExpr": "abs(log(datum.value)/LN10 - round(log(datum.value)/LN10)) < 0.001 ? '10' + ['⁰','¹','²','³','⁴'][round(log(datum.value)/LN10)] : ''", "tickSize": {"condition": {"test": "abs(log(datum.value)/LN10 - round(log(datum.value)/LN10)) < 0.001", "value": 5}, "value": 3}}},
    "y": {"field": "eta", "type": "quantitative", "scale": {"domain": [-50, 1050], "nice": false, "zero": false}, "axis": {"title": "η", "values": [0,200,400,600,800,1000], "format": "d"}},
    "color": {"field": "series", "type": "nominal", "scale": {"domain": ["Branching","Last event-WOR","Branchless","Branchless-Combing","Branchless-WOR"], "range": ["#1f77b4","#9467bd","#ff7f0e","#2ca02c","#d62728"]}, "legend": null}
   }},
  {"data": {"name": "markers"}, "transform": [{"filter": "datum.panel === 'd'"}],
   "mark": {"type": "point", "filled": false, "strokeWidth": 1.3, "opacity": 1},
   "encoding": {
    "x": {"field": "g", "type": "quantitative"},
    "y": {"field": "eta", "type": "quantitative"},
    "color": {"field": "series", "type": "nominal", "legend": null},
    "shape": {"field": "series", "type": "nominal", "scale": {"range": ["diamond","circle","square","triangle-down","triangle-left"]}, "legend": null},
    "size": {"field": "series", "type": "nominal", "scale": {"range": [121, 71, 70, 90, 90]}, "legend": null}
   }}
 ]
}
]
}
